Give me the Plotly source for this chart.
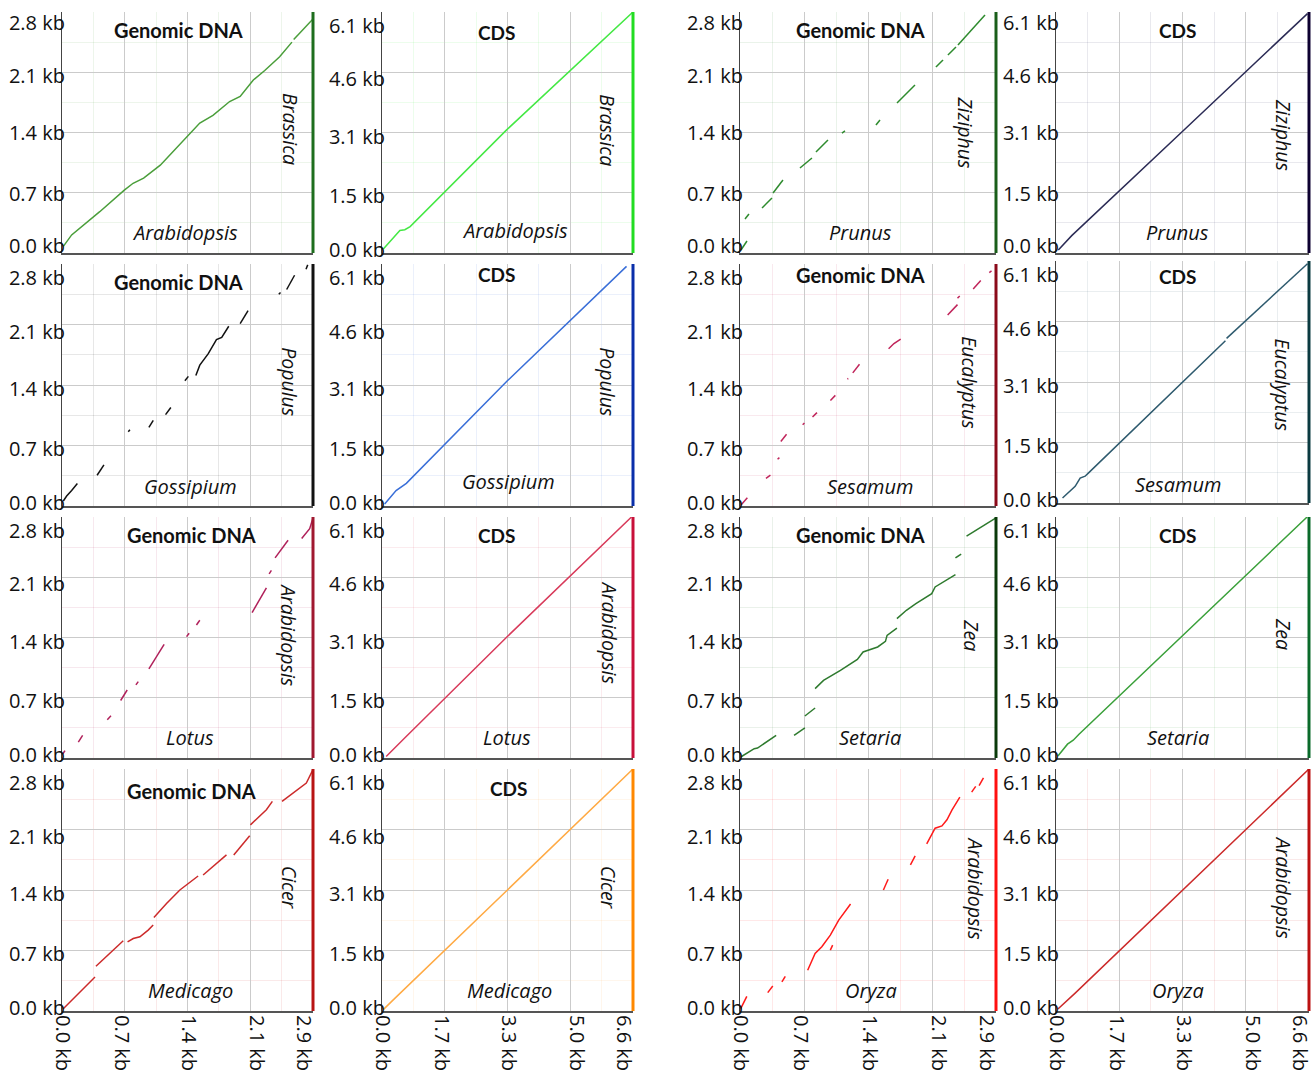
import plotly.graph_objects as go

# ---------------- tick labels / axis extents ----------------
gen_y_ticks = ["0.0 kb", "0.7 kb", "1.4 kb", "2.1 kb", "2.8 kb"]
gen_x_ticks = ["0.0 kb", "0.7 kb", "1.4 kb", "2.1 kb", "2.9 kb"]
cds_y_ticks = ["0.0 kb", "1.5 kb", "3.1 kb", "4.6 kb", "6.1 kb"]
cds_x_ticks = ["0.0 kb", "1.7 kb", "3.3 kb", "5.0 kb", "6.6 kb"]
gen_x_max, gen_y_max = 2.86, 2.8
cds_x_max, cds_y_max = 6.6, 6.1

# ---------------- panel descriptions (row-major) ----------------
panel_kind = ["gen", "cds", "gen", "cds",
              "gen", "cds", "gen", "cds",
              "gen", "cds", "gen", "cds",
              "gen", "cds", "gen", "cds"]
panel_titles = ["Genomic DNA", "CDS", "Genomic DNA", "CDS",
                "Genomic DNA", "CDS", "Genomic DNA", "CDS",
                "Genomic DNA", "CDS", "Genomic DNA", "CDS",
                "Genomic DNA", "CDS", "", ""]
x_species = ["Arabidopsis", "Arabidopsis", "Prunus", "Prunus",
             "Gossipium", "Gossipium", "Sesamum", "Sesamum",
             "Lotus", "Lotus", "Setaria", "Setaria",
             "Medicago", "Medicago", "Oryza", "Oryza"]
y_species = ["Brassica", "Brassica", "Ziziphus", "Ziziphus",
             "Populus", "Populus", "Eucalyptus", "Eucalyptus",
             "Arabidopsis", "Arabidopsis", "Zea", "Zea",
             "Cicer", "Cicer", "Arabidopsis", "Arabidopsis"]
line_colors = ["#4a9e3a", "#44e844", "#2e8b2e", "#2b2b55",
               "#111111", "#3a6fd8", "#c0245a", "#2e5a6e",
               "#b0205a", "#d83a5a", "#2e7a2e", "#3aa03a",
               "#cc2a2a", "#ffaa44", "#ff1a1a", "#cc2a2a"]
border_colors = ["#1e6e1e", "#22dd22", "#1a5e1a", "#0d0030",
                 "#111111", "#0a2faa", "#8b0a1a", "#0a3a40",
                 "#a01830", "#c8103a", "#0a3a0a", "#0a6a2a",
                 "#b81414", "#ff8800", "#ff1010", "#bb1111"]

# ---------------- dot-plot match segments (kb), None = gap ----------------
ara_bra_gen_x = [0.015, 0.11, 0.43, 0.58, 0.71, 0.81, 0.93, 1.12, 1.30, 1.42, 1.57, 1.72, 1.91, 2.03, 2.18, 2.31, 2.48, 2.62, None, 2.64, 2.86]
ara_bra_gen_y = [0.077, 0.21, 0.48, 0.62, 0.73, 0.81, 0.87, 1.02, 1.22, 1.35, 1.51, 1.60, 1.76, 1.82, 2.01, 2.12, 2.28, 2.45, None, 2.48, 2.72]
ara_bra_cds_x = [0.035, 0.25, 0.47, 0.60, 0.74, 3.27, 6.6]
ara_bra_cds_y = [0.10, 0.34, 0.57, 0.59, 0.67, 3.11, 6.1]

pru_ziz_gen_x = [0.011, 0.078, None, 0.056, 0.10, None, 0.246, 0.357, None, 0.369, 0.48, None, 0.67, 0.804, None, 0.849, 0.983, None, 1.139, 1.173, None, 1.519, 1.564, None, 1.754, 1.955, None, 2.189, 2.268, None, 2.323, 2.413, None, 2.435, 2.737]
pru_ziz_gen_y = [0.035, 0.139, None, 0.395, 0.453, None, 0.523, 0.639, None, 0.697, 0.848, None, 0.988, 1.104, None, 1.174, 1.313, None, 1.394, 1.418, None, 1.487, 1.545, None, 1.743, 1.952, None, 2.161, 2.243, None, 2.301, 2.394, None, 2.417, 2.766]
pru_ziz_cds_x = [0.06, 0.41, 3.29, 6.56]
pru_ziz_cds_y = [0.076, 0.44, 3.07, 6.06]

gos_pop_gen_x = [0.015, 0.053, 0.11, 0.175, None, 0.40, 0.478, None, 0.755, 0.774, None, 0.99, 1.04, None, 1.18, 1.24, None, 1.40, 1.44, None, 1.525, 1.57, 1.665, 1.76, 1.82, 1.90, None, 2.03, 2.12, None, 2.47, 2.49, None, 2.56, 2.65, None, 2.78, 2.80]
gos_pop_gen_y = [0.058, 0.116, 0.18, 0.26, None, 0.356, 0.476, None, 0.86, 0.883, None, 0.91, 0.99, None, 1.057, 1.14, None, 1.45, 1.50, None, 1.51, 1.63, 1.76, 1.925, 1.95, 2.08, None, 2.11, 2.26, None, 2.45, 2.47, None, 2.505, 2.67, None, 2.74, 2.79]
gos_pop_cds_x = [0.07, 0.37, 0.64, 3.29, 6.43]
gos_pop_cds_y = [0.05, 0.39, 0.57, 3.15, 6.04]

ses_euc_gen_x = [0.011, 0.082, None, 0.29, 0.34, None, 0.42, 0.44, None, 0.456, 0.52, None, 0.70, 0.72, None, 0.81, 0.86, None, 1.01, 1.065, None, 1.20, 1.21, None, 1.26, 1.335, None, 1.66, 1.72, 1.795, None, 2.32, 2.43, None, 2.43, 2.455, None, 2.605, 2.69, None, 2.785, 2.81]
ses_euc_gen_y = [0.011, 0.096, None, 0.32, 0.356, None, 0.54, 0.56, None, 0.747, 0.83, None, 0.94, 0.96, None, 1.03, 1.08, None, 1.22, 1.28, None, 1.47, 1.475, None, 1.54, 1.64, None, 1.82, 1.88, 1.93, None, 2.21, 2.33, None, 2.405, 2.43, None, 2.51, 2.61, None, 2.70, 2.72]
ses_euc_cds_x = [0.17, 0.50, 0.63, 0.76, 0.85, 4.42, None, 4.45, 6.56]
ses_euc_cds_y = [0.127, 0.42, 0.63, 0.675, 0.76, 4.09, None, 4.15, 6.03]

lot_ara_gen_x = [0.008, 0.034, None, 0.186, 0.235, None, 0.516, 0.558, None, 0.668, 0.743, None, 0.842, 0.869, None, 0.99, 1.077, 1.164, None, 1.419, 1.449, None, 1.532, 1.57, None, 2.166, 2.234, 2.291, 2.329, None, 2.36, 2.386, None, 2.428, 2.519, 2.576, None, 2.731, 2.822, 2.86]
lot_ara_gen_y = [0.046, 0.085, None, 0.185, 0.263, None, 0.444, 0.49, None, 0.668, 0.79, None, 0.85, 0.888, None, 1.035, 1.18, 1.32, None, 1.41, 1.45, None, 1.545, 1.60, None, 1.69, 1.815, 1.91, 1.977, None, 2.14, 2.18, None, 2.325, 2.45, 2.53, None, 2.55, 2.665, 2.79]
lot_ara_cds_x = [0.11, 0.46, 0.59, 3.29, 6.56]
lot_ara_cds_y = [0.04, 0.38, 0.50, 3.07, 6.1]

set_zea_gen_x = [0.0076, 0.159, 0.196, 0.404, None, 0.604, 0.725, None, 0.725, 0.839, None, 0.839, 0.933, 1.122, 1.311, 1.375, 1.538, 1.625, 1.643, 1.753, None, 1.753, 1.859, 1.965, 2.142, 2.18, 2.407, None, 2.407, 2.471, None, 2.531, 2.86]
set_zea_gen_y = [0.0116, 0.108, 0.116, 0.263, None, 0.263, 0.349, None, 0.488, 0.581, None, 0.806, 0.902, 1.019, 1.146, 1.232, 1.29, 1.355, 1.425, 1.51, None, 1.619, 1.716, 1.793, 1.909, 1.987, 2.13, None, 2.324, 2.37, None, 2.579, 2.789]
set_zea_cds_x = [0.05, 0.30, 0.45, 0.60, 6.55]
set_zea_cds_y = [0.05, 0.35, 0.45, 0.60, 6.1]

med_cic_gen_x = [0.015, 0.167, 0.376, None, 0.387, 0.546, 0.698, None, 0.747, 0.812, 0.888, 0.982, 1.039, None, 1.047, 1.191, 1.343, 1.551, None, 1.608, 1.874, None, 1.957, 2.139, None, 2.147, 2.329, 2.397, None, 2.507, 2.784, 2.86]
med_cic_gen_y = [0.027, 0.182, 0.394, None, 0.518, 0.665, 0.812, None, 0.80, 0.839, 0.859, 0.936, 0.994, None, 1.083, 1.245, 1.40, 1.562, None, 1.574, 1.806, None, 1.806, 2.027, None, 2.154, 2.328, 2.425, None, 2.425, 2.638, 2.792]
med_cic_cds_x = [0.04, 0.35, 6.6]
med_cic_cds_y = [0.04, 0.33, 6.1]

ory_ara_gen_x = [0.0076, 0.076, None, 0.31, 0.366, None, 0.468, 0.506, None, 0.756, 0.839, 0.914, 1.009, 1.103, 1.235, None, 1.009, 1.035, None, 1.602, 1.655, None, 1.904, 1.957, None, 2.086, 2.18, 2.256, 2.312, 2.369, 2.456, None, 2.588, 2.633, None, 2.671, 2.72]
ory_ara_gen_y = [0.027, 0.17, None, 0.213, 0.29, None, 0.336, 0.402, None, 0.472, 0.665, 0.743, 0.878, 1.052, 1.238, None, 0.704, 0.762, None, 1.40, 1.524, None, 1.69, 1.794, None, 1.934, 2.115, 2.142, 2.212, 2.328, 2.475, None, 2.533, 2.599, None, 2.607, 2.696]
ory_ara_cds_x = [0.05, 0.35, 0.50, 6.6]
ory_ara_cds_y = [0.05, 0.30, 0.45, 6.1]

panel_x = [ara_bra_gen_x, ara_bra_cds_x, pru_ziz_gen_x, pru_ziz_cds_x,
           gos_pop_gen_x, gos_pop_cds_x, ses_euc_gen_x, ses_euc_cds_x,
           lot_ara_gen_x, lot_ara_cds_x, set_zea_gen_x, set_zea_cds_x,
           med_cic_gen_x, med_cic_cds_x, ory_ara_gen_x, ory_ara_cds_x]
panel_y = [ara_bra_gen_y, ara_bra_cds_y, pru_ziz_gen_y, pru_ziz_cds_y,
           gos_pop_gen_y, gos_pop_cds_y, ses_euc_gen_y, ses_euc_cds_y,
           lot_ara_gen_y, lot_ara_cds_y, set_zea_gen_y, set_zea_cds_y,
           med_cic_gen_y, med_cic_cds_y, ory_ara_gen_y, ory_ara_cds_y]

# ---------------- layout geometry (screen pixels) ----------------
W, H = 1315, 1072
col_px = [(62, 313), (382, 633), (740, 996), (1056, 1309)]
row_px = [(12, 253), (264, 506), (517, 758), (769, 1011)]
panel_dy = [0, 0, 0, 0, 0, 0, 0, -3, 0, 0, 0, 0, 0, 0, 0, 0]

title_pos = [(0.466, 0.925), (0.458, 0.913), (0.469, 0.925), (0.482, 0.925),
             (0.466, 0.926), (0.458, 0.955), (0.469, 0.955), (0.482, 0.934),
             (0.514, 0.925), (0.458, 0.925), (0.469, 0.925), (0.482, 0.925),
             (0.514, 0.909), (0.502, 0.921), (0.5, 0.92), (0.5, 0.92)]
xsp_pos = [(0.49, 0.083), (0.53, 0.095), (0.469, 0.083), (0.482, 0.083),
           (0.51, 0.079), (0.502, 0.10), (0.508, 0.079), (0.482, 0.075),
           (0.51, 0.083), (0.498, 0.083), (0.508, 0.083), (0.482, 0.083),
           (0.51, 0.083), (0.506, 0.083), (0.51, 0.083), (0.482, 0.083)]
ysp_pos = [(0.908, 0.515), (0.90, 0.51), (0.879, 0.50), (0.897, 0.49),
           (0.908, 0.512), (0.90, 0.512), (0.898, 0.512), (0.897, 0.49),
           (0.904, 0.51), (0.904, 0.52), (0.906, 0.51), (0.897, 0.515),
           (0.908, 0.51), (0.904, 0.51), (0.918, 0.51), (0.897, 0.51)]

quarters = [0, 0.25, 0.5, 0.75, 1.0]
eighths = [0.125, 0.375, 0.625, 0.875]
ylab_frac_a = [0.027, 0.245, 0.498, 0.734, 0.954]
ylab_frac_b = [0.013, 0.235, 0.483, 0.72, 0.942]
ylab_pattern = ["a", "b", "a", "a",
                "b", "b", "b", "b",
                "b", "b", "b", "b",
                "b", "b", "b", "b"]
xlab_frac = [0.0, 0.238, 0.505, 0.775, 0.962]

tick_font = dict(family="Open Sans", size=20, color="#111111")
title_size = {"Genomic DNA": 20, "CDS": 19}


def rgba(hexc, a):
    h = hexc.lstrip("#")
    return "rgba(%d,%d,%d,%.2f)" % (int(h[0:2], 16), int(h[2:4], 16), int(h[4:6], 16), a)


fig = go.Figure()
layout = {}
annotations = []
shapes = []

for i in range(16):
    n = i + 1
    s = "" if n == 1 else str(n)
    ls = str(n + 16)
    r, c = divmod(i, 4)
    kind = panel_kind[i]
    xmax = gen_x_max if kind == "gen" else cds_x_max
    ymax = gen_y_max if kind == "gen" else cds_y_max
    xt = gen_x_ticks if kind == "gen" else cds_x_ticks
    yt = gen_y_ticks if kind == "gen" else cds_y_ticks
    x0, x1 = col_px[c]
    y0, y1 = row_px[r]
    y0 += panel_dy[i]
    y1 += panel_dy[i]
    minor_col = rgba(line_colors[i], 0.10)
    yfr = ylab_frac_a if ylab_pattern[i] == "a" else ylab_frac_b

    fig.add_trace(go.Scatter(
        x=panel_x[i], y=panel_y[i], mode="lines",
        line=dict(color=line_colors[i], width=1.5),
        xaxis="x" + s, yaxis="y" + s, showlegend=False,
        connectgaps=False, hoverinfo="skip"))
    # empty trace registering the y label axis
    fig.add_trace(go.Scatter(x=[None], y=[None], mode="lines",
                             xaxis="x" + s, yaxis="y" + ls,
                             showlegend=False, hoverinfo="skip"))

    layout["xaxis" + s] = dict(
        domain=[x0 / W, x1 / W], range=[0, xmax], anchor="y" + s,
        tickmode="array", tickvals=[xmax * f for f in quarters],
        showticklabels=False, ticks="",
        showgrid=True, gridcolor="#cbcbcb", gridwidth=1,
        minor=dict(tickmode="array", tickvals=[xmax * f for f in eighths],
                   showgrid=True, gridcolor=minor_col, gridwidth=1, ticks=""),
        showline=True, linecolor="#555555", linewidth=1.5,
        zeroline=False, fixedrange=True, automargin=False)
    layout["yaxis" + s] = dict(
        domain=[1 - y1 / H, 1 - y0 / H], range=[0, ymax], anchor="x" + s,
        tickmode="array", tickvals=[ymax * f for f in quarters],
        showticklabels=False, ticks="",
        showgrid=True, gridcolor="#cbcbcb", gridwidth=1,
        minor=dict(tickmode="array", tickvals=[ymax * f for f in eighths],
                   showgrid=True, gridcolor=minor_col, gridwidth=1, ticks=""),
        showline=True, linecolor="#444444", linewidth=1.5,
        zeroline=False, fixedrange=True, automargin=False)
    layout["yaxis" + ls] = dict(
        overlaying="y" + s, anchor="x" + s, range=[0, ymax], side="left",
        tickmode="array", tickvals=[ymax * f for f in yfr], ticktext=yt,
        showgrid=False, zeroline=False, showline=False, ticks="",
        tickfont=tick_font, ticklabelstandoff=-4, fixedrange=True, automargin=False)

    if r == 3:
        xs = str(n + 20)
        fig.add_trace(go.Scatter(x=[None], y=[None], mode="lines",
                                 xaxis="x" + xs, yaxis="y" + s,
                                 showlegend=False, hoverinfo="skip"))
        layout["xaxis" + xs] = dict(
            overlaying="x" + s, anchor="y" + s, range=[0, xmax], side="bottom",
            tickmode="array", tickvals=[xmax * f for f in xlab_frac], ticktext=xt,
            tickangle=90, tickfont=tick_font, ticks="", ticklabelstandoff=3,
            showgrid=False, zeroline=False, showline=False,
            fixedrange=True, automargin=False)

    shapes.append(dict(type="line", xref="x" + s + " domain", yref="y" + s + " domain",
                       x0=1, x1=1, y0=0, y1=1,
                       line=dict(color=border_colors[i], width=3)))

    if panel_titles[i]:
        annotations.append(dict(
            text="<b>" + panel_titles[i] + "</b>", showarrow=False,
            xref="x" + s + " domain", yref="y" + s + " domain",
            x=title_pos[i][0], y=title_pos[i][1], xanchor="center", yanchor="middle",
            font=dict(family="Lato", size=title_size[panel_titles[i]], color="#111111")))
    annotations.append(dict(
        text="<i>" + x_species[i] + "</i>", showarrow=False,
        xref="x" + s + " domain", yref="y" + s + " domain",
        x=xsp_pos[i][0], y=xsp_pos[i][1], xanchor="center", yanchor="middle",
        font=dict(family="Open Sans", size=20, color="#111111")))
    annotations.append(dict(
        text="<i>" + y_species[i] + "</i>", showarrow=False, textangle=90,
        xref="x" + s + " domain", yref="y" + s + " domain",
        x=ysp_pos[i][0], y=ysp_pos[i][1], xanchor="center", yanchor="middle",
        font=dict(family="Open Sans", size=19.5, color="#111111")))

fig.update_layout(
    width=W, height=H, margin=dict(l=0, r=0, t=0, b=0, pad=0),
    paper_bgcolor="white", plot_bgcolor="white",
    annotations=annotations, shapes=shapes, showlegend=False,
    **layout)

fig.write_html("out.html",
               config={"displayModeBar": False, "staticPlot": True},
               post_script="document.body.style.margin='0px';"
                           "document.documentElement.style.overflow='hidden';")
